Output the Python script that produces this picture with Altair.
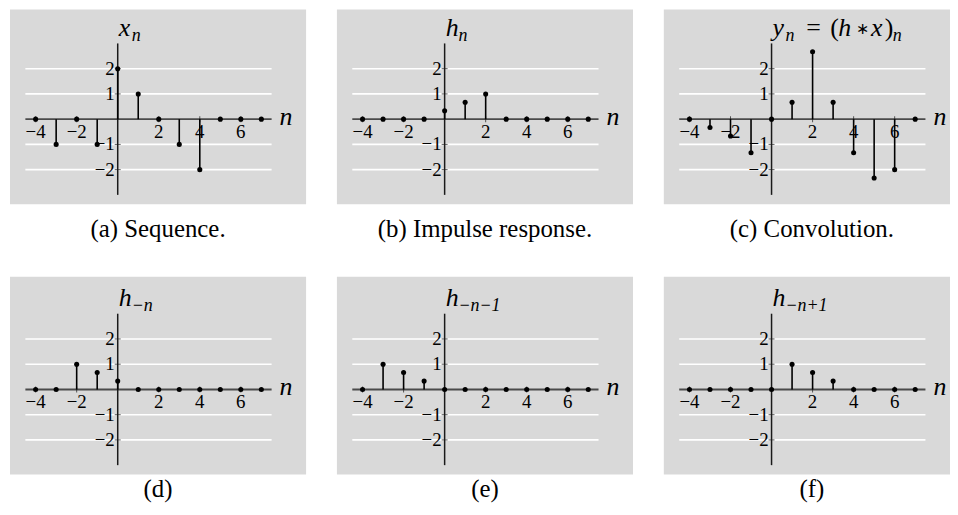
import altair as alt
import pandas as pd

# ---------------- data ----------------
N = list(range(-4, 8))
x_seq = [0, -1, 0, -1, 2, 1, 0, -1, -2, 0, 0, 0]
h_seq = [0, 0, 0, 0, 0.33, 0.67, 1, 0, 0, 0, 0, 0]
y_seq = [0, -0.33, -0.67, -1.33, 0, 0.67, 2.67, 0.67, -1.33, -2.33, -2, 0]
h_neg = [0, 0, 1, 0.67, 0.33, 0, 0, 0, 0, 0, 0, 0]
h_neg_m1 = [0, 1, 0.67, 0.33, 0, 0, 0, 0, 0, 0, 0, 0]
h_neg_p1 = [0, 0, 0, 0, 0, 1, 0.67, 0.33, 0, 0, 0, 0]

captions = ["(a) Sequence.", "(b) Impulse response.", "(c) Convolution.", "(d)", "(e)", "(f)"]
x_tick_values = [-4, -2, 2, 4, 6]
x_tick_labels = ["−4", "−2", "2", "4", "6"]
y_tick_values = [2, 1, -1, -2]
y_tick_labels = ["2", "1", "−1", "−2"]
grid_levels = [-2, -1, 1, 2]
N_MIN, N_MAX = -4.5, 7.5
Y_MIN, Y_MAX = -3, 3
TITLE_Y = 3.3

# title pieces: (text, italic, subscript)
titles = [
    [("x", True, False), ("n", True, True)],
    [("h", True, False), ("n", True, True)],
    [("y", True, False), ("n", True, True), ("=", False, False), ("(", False, False),
     ("h", True, False), ("∗", False, False), ("x", True, False), (")", False, False), ("n", True, True)],
    [("h", True, False), ("−n", True, True)],
    [("h", True, False), ("−n−1", True, True)],
    [("h", True, False), ("−n+1", True, True)],
]
title_dx = [
    [1, 14],
    [1, 14],
    [1, 14, 35, 59, 67, 85, 100, 114, 122],
    [1, 14],
    [1, 14],
    [1, 14],
]

PX_X = 20.65
PX_Y = 25.4
X_LEFT = -5.25
Y_TOP = 4.46
SERIF = "Liberation Serif"
BG = "#d9d9d9"


def panel(vals, pieces, dxs, caption, width, height, ytop, cap_offset, cap_dx=0):
    xs = alt.Scale(domain=[X_LEFT, X_LEFT + width / PX_X], nice=False, zero=False)
    ys = alt.Scale(domain=[ytop - height / PX_Y, ytop], nice=False, zero=False)
    X = lambda f: alt.X(f, scale=xs, axis=None, title=None)
    Y = lambda f: alt.Y(f, scale=ys, axis=None, title=None)

    df = pd.DataFrame({"n": N, "v": vals, "z": [0] * len(N)})
    grid_df = pd.DataFrame({"g": grid_levels, "a": N_MIN, "b": N_MAX})
    xaxis_df = pd.DataFrame({"a": [N_MIN], "b": [N_MAX], "y": [0]})
    yaxis_df = pd.DataFrame({"x": [0], "a": [Y_MIN], "b": [Y_MAX]})
    xt_df = pd.DataFrame({"t": x_tick_values, "lab": x_tick_labels, "z": 0})
    yt_df = pd.DataFrame({"t": y_tick_values, "lab": y_tick_labels, "z": 0})
    nlab_df = pd.DataFrame({"x": [N_MAX], "y": [0], "lab": ["n"]})

    grid = alt.Chart(grid_df).mark_rule(color="white", strokeWidth=1.6).encode(
        x=X("a:Q"), x2="b:Q", y=Y("g:Q"))
    xaxis = alt.Chart(xaxis_df).mark_rule(color="#4a4a4a", strokeWidth=1.9).encode(
        x=X("a:Q"), x2="b:Q", y=Y("y:Q"))
    yaxis = alt.Chart(yaxis_df).mark_rule(color="#1a1a1a", strokeWidth=1.5).encode(
        x=X("x:Q"), y=Y("a:Q"), y2="b:Q")
    xticks = alt.Chart(xt_df).mark_tick(color="#1a1a1a", orient="vertical", size=6, thickness=1).encode(
        x=X("t:Q"), y=Y("z:Q"))
    yticks = alt.Chart(yt_df).mark_tick(color="#1a1a1a", orient="horizontal", size=6, thickness=1).encode(
        x=X("z:Q"), y=Y("t:Q"))
    xlabels = alt.Chart(xt_df).mark_text(font=SERIF, fontSize=19, baseline="top", dy=4, color="black").encode(
        x=X("t:Q"), y=Y("z:Q"), text="lab:N")
    ylabels = alt.Chart(yt_df).mark_text(font=SERIF, fontSize=19, baseline="middle", align="right", dx=-3,
                                         color="black").encode(
        x=X("z:Q"), y=Y("t:Q"), text="lab:N")
    nlabel = alt.Chart(nlab_df).mark_text(font=SERIF, fontSize=26, fontStyle="italic", align="left",
                                          baseline="alphabetic", dx=8, dy=6, color="black").encode(
        x=X("x:Q"), y=Y("y:Q"), text="lab:N")
    stems = alt.Chart(df).mark_rule(color="black", strokeWidth=1.6).encode(
        x=X("n:Q"), y=Y("v:Q"), y2="z:Q")
    dots = alt.Chart(df).mark_circle(color="black", size=26, opacity=1).encode(
        x=X("n:Q"), y=Y("v:Q"))

    layers = [grid, xaxis, yaxis, xticks, yticks, xlabels, ylabels, nlabel, stems, dots]
    for (txt, ital, sub), dx in zip(pieces, dxs):
        tdf = pd.DataFrame({"x": [0], "y": [TITLE_Y], "lab": [txt]})
        star = txt == "∗"
        layers.append(
            alt.Chart(tdf).mark_text(font="DejaVu Sans" if star else SERIF,
                                     fontSize=16 if star else (18 if sub else 26),
                                     fontStyle="italic" if ital else "normal",
                                     align="left", baseline="alphabetic", dx=dx,
                                     dy=5 if sub else (-2 if star else 0),
                                     color="black").encode(x=X("x:Q"), y=Y("y:Q"), text="lab:N"))

    return alt.layer(*layers).properties(
        width=width, height=height,
        title=alt.TitleParams(caption, orient="bottom", anchor="middle", font=SERIF, fontSize=25,
                              fontWeight="normal", color="black", baseline="top", offset=cap_offset,
                              dx=cap_dx),
    )


series = [x_seq, h_seq, y_seq, h_neg, h_neg_m1, h_neg_p1]
widths = [298, 298, 288, 298, 298, 288]
panels = []
for i in range(6):
    top = i < 3
    panels.append(panel(series[i], titles[i], title_dx[i], captions[i], widths[i],
                        196 if top else 199, Y_TOP - 3 / PX_Y if top else Y_TOP,
                        13 if top else 3, 5 if i % 3 == 2 else 0))

chart = alt.concat(*panels, columns=3, spacing=alt.RowColnumber(row=73, column=31),
                   bounds="flush").properties(
    padding={"left": 2, "top": 0, "right": 0, "bottom": 0}
).configure_view(stroke=None, fill=BG)

chart.save("out.html", embed_options={"renderer": "svg", "actions": False})
